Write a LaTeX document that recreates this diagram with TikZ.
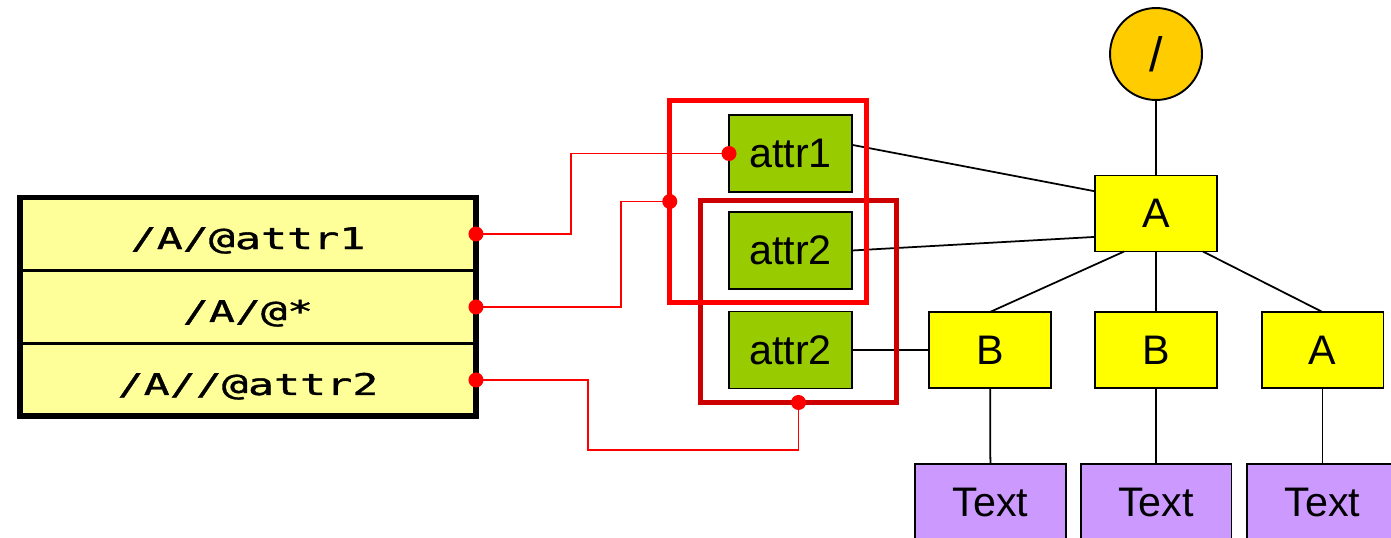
\documentclass[tikz,border=0pt]{standalone}
\usepackage{fontspec}
\setmainfont{Liberation Sans}
\newfontfamily\pathfont{DejaVu Sans Mono}[FakeStretch=1.45, FakeBold=1.2]
\usepackage{tikz}
\usetikzlibrary{positioning}
\definecolor{rowyellow}{HTML}{FFFF99}
\definecolor{attrgreen}{HTML}{99CC00}
\definecolor{elemyellow}{HTML}{FFFF00}
\definecolor{textpurple}{HTML}{CC99FF}
\definecolor{rootorange}{HTML}{FFCC00}
\definecolor{seldark}{HTML}{CC0000}

\begin{document}
\begin{tikzpicture}[x=0.02cm, y=-0.02cm,
        every node/.style={inner sep=0pt, outer sep=0pt},
        rowbox/.style={draw, line width=1.4pt, fill=rowyellow, minimum width=9.12cm,
                minimum height=1.46cm, text height=0.6cm, text depth=0pt,
                font=\pathfont\fontsize{17}{20}\selectfont},
        attrbox/.style={draw, line width=1.1pt, fill=attrgreen, minimum width=2.46cm,
                minimum height=1.54cm, font=\fontsize{23.5}{28}\selectfont},
        elembox/.style={draw, line width=1.1pt, fill=elemyellow, minimum width=2.44cm,
                minimum height=1.52cm, font=\fontsize{23.5}{28}\selectfont},
        textbox/.style={draw, line width=1.1pt, fill=textpurple, minimum width=3.02cm,
                minimum height=1.52cm, font=\fontsize{23.5}{28}\selectfont},
        rootnode/.style={circle, draw, line width=1.1pt, fill=rootorange, minimum size=1.84cm,
                font=\fontsize{27.5}{32}\selectfont},
        selbox/.style={line width=2.85pt, minimum width=3.93cm, minimum height=4.04cm},
        tie/.style={line width=1pt},
        wire/.style={red, line width=1pt},
        pin/.style={red}]
        \useasboundingbox (0, 0) rectangle (1391, 537);
        \node[rowbox] (P1) at (248, 234) {/A/@attr1};
        \node[rowbox, below=0pt of P1] (P2) {/A/@*};
        \node[rowbox, below=0pt of P2] (P3) {/A//@attr2};
        \draw[line width=3.4pt] (P1.north west) rectangle (P3.south east);
        \node[attrbox] (G1) at (790.5, 153.5) {attr1};
        \node[attrbox] (G2) at (790.5, 250.5) {attr2};
        \node[attrbox] (G3) at (790.5, 350) {attr2};
        \node[rootnode] (R) at (1156, 54) {/};
        \node[elembox] (A1) at (1156, 213.5) {A};
        \node[elembox] (B1) at (990, 350) {B};
        \node[elembox] (B2) at (1156, 350) {B};
        \node[elembox] (A2) at (1322.5, 350) {A};
        \node[textbox] (T1) at (990.5, 502) {Text};
        \node[textbox] (T2) at (1156, 502) {Text};
        \node[textbox] (T3) at (1322.5, 502) {Text};
        \draw[tie] (R) -- (A1);
        \draw[tie] (A1.230) -- (B1.north);
        \draw[tie] (A1) -- (B2);
        \draw[tie] (A1.321) -- (A2.north);
        \draw[tie] (B1) -- (T1);
        \draw[tie] (B2) -- (T2);
        \draw[tie] (A2) -- (T3);
        \draw[tie] (G1.8) -- (A1.160);
        \draw[tie] (G2.east) -- (A1.201);
        \draw[tie] (G3) -- (B1);
        \node[selbox, draw=seldark] (S2) at (798.5, 301.5) {};
        \node[selbox, draw=red] (S1) at (768, 201.5) {};
        \draw[wire] (P1.east) -- ++(95, 0) |- (G1.west);
        \draw[wire] (P2.east) -- ++(145, 0) |- (S1.west);
        \draw[wire] (P3.east) -- ++(112, 0) -- ++(0, 70) -| (S2.south);
        \foreach \p in {P1.east, P2.east, P3.east, G1.west, S1.west, S2.south}
                \fill[pin] (\p) circle[radius=0.15cm];
\end{tikzpicture}
\end{document}
